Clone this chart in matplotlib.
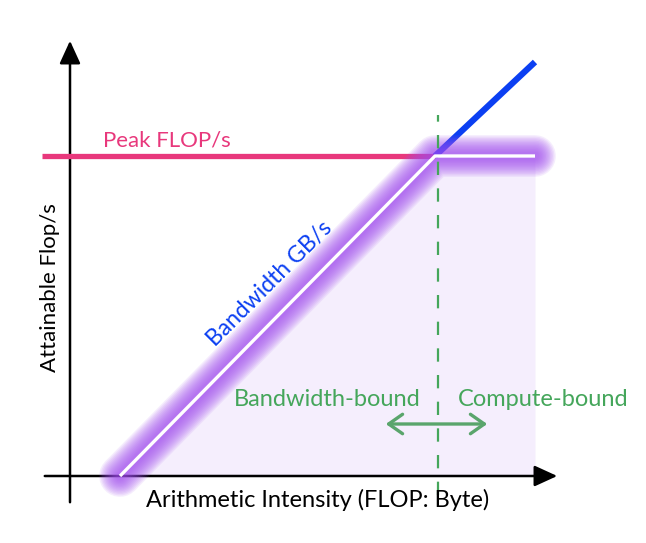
import matplotlib.pyplot as plt
from matplotlib.patches import FancyArrowPatch

plt.rcParams['font.family'] = ['Lato', 'DejaVu Sans']

# roofline schematic (arbitrary units)
roof_x = [1.25, 9.125, 11.625]
roof_y = [0.0, 8.0, 8.0]
peak_x = [-0.7, 9.125]
peak_y = [8.0, 8.0]
bw_ext_x = [9.125, 11.625]
bw_ext_y = [8.0, 10.35]
ridge_x = 9.2
ridge_span = [-0.475, 9.025]

fig = plt.figure(figsize=(6.46, 5.43), dpi=100)
ax = fig.add_axes([0, 0, 1, 1])
ax.set_xlim(-1.75, 14.4)
ax.set_ylim(-1.675, 11.9)
ax.axis('off')

purple = '#a24ef0'
pink = '#e8387c'
blue = '#0b3ff2'
green = '#45a65b'

# shaded region under the roof
ax.fill_between(roof_x, 0, roof_y, color='#f5eefd', lw=0, zorder=1)

# axes arrows
head = '-|>,head_length=0.7,head_width=0.32'
ax.add_patch(FancyArrowPatch((-0.7, 0), (12.25, 0), arrowstyle=head,
                             mutation_scale=20, color='black', lw=1.8, zorder=3))
ax.add_patch(FancyArrowPatch((0, -0.725), (0, 10.95), arrowstyle=head,
                             mutation_scale=20, color='black', lw=1.8, zorder=3))

# peak and bandwidth lines
ax.plot(peak_x, peak_y, color=pink, lw=3.8, solid_capstyle='butt', zorder=4)
ax.plot(bw_ext_x, bw_ext_y, color=blue, lw=4.5, solid_capstyle='butt', zorder=4)

# glow around the attainable roof
for w in range(30, 5, -2):
    ax.plot(roof_x, roof_y, color=purple, lw=w, alpha=0.1, solid_capstyle='round',
            solid_joinstyle='round', zorder=5)
ax.plot(roof_x, roof_y, color='white', lw=2.4, solid_capstyle='butt', zorder=6)

# ridge point
ax.plot([ridge_x, ridge_x], ridge_span, color=green, lw=1.6, dashes=(6, 6), zorder=7)
ax.add_patch(FancyArrowPatch((7.825, 1.3), (10.5, 1.3), arrowstyle='<->,head_length=0.5,head_width=0.35',
                             mutation_scale=20, color='#5aa56c', lw=2.4, zorder=7))

ax.text(0.825, 8.15, 'Peak FLOP/s', color=pink, fontsize=16, ha='left', va='bottom', zorder=8)
ax.text(5.0, 4.8, 'Bandwidth GB/s', color=blue, fontsize=16.5, rotation=45,
        rotation_mode='anchor', ha='center', va='center', zorder=8)
ax.text(6.43, 1.925, 'Bandwidth-bound', color=green, fontsize=17, ha='center', va='center', zorder=8)
ax.text(11.83, 1.925, 'Compute-bound', color=green, fontsize=17, ha='center', va='center', zorder=8)
ax.text(6.2, -0.6, 'Arithmetic Intensity (FLOP: Byte)', color='black', fontsize=17,
        ha='center', va='center', zorder=8)
ax.text(-0.5, 4.7, 'Attainable Flop/s', color='black', fontsize=16, rotation=90,
        ha='center', va='center', zorder=8)

fig.savefig('out.png', dpi=100)
